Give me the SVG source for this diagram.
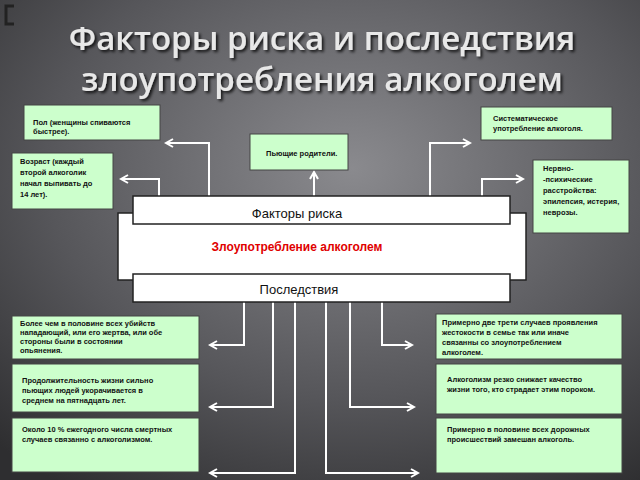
<svg xmlns="http://www.w3.org/2000/svg" width="640" height="480" viewBox="0 0 640 480">
<defs>
<radialGradient id="bg" cx="0.55" cy="0.35" r="0.8">
<stop offset="0" stop-color="#8a8a8e"/><stop offset="0.6" stop-color="#56565a"/><stop offset="1" stop-color="#2e2e30"/>
</radialGradient>
<marker id="ah" markerWidth="10" markerHeight="10" refX="8" refY="5" orient="auto" markerUnits="userSpaceOnUse">
<path d="M1,1 L8,5 L1,9" fill="none" stroke="#fff" stroke-width="2"/>
</marker>
<filter id="sh"><feDropShadow dx="2" dy="2" stdDeviation="1.5" flood-color="#000" flood-opacity="0.8"/></filter>
</defs>
<style>
.g{fill:#ccffcc;stroke:#444;stroke-width:1}
.t{font-family:"Liberation Sans",Arial,sans-serif;font-size:7.5px;font-weight:bold;fill:#111}
.w{fill:#fff;stroke:#222;stroke-width:1.5}
.c{fill:none;stroke:#fff;stroke-width:2;marker-end:url(#ah)}
.h{font-family:"Open Sans","DejaVu Sans",sans-serif;font-size:33px;font-weight:600;fill:#e8e8e8;text-anchor:middle;filter:url(#sh)}
</style>
<rect width="640" height="480" fill="url(#bg)"/>
<path d="M14,6 H6 V24 H14" fill="none" stroke="#222" stroke-width="3"/>
<text class="h" x="322" y="50">Факторы риска и последствия</text>
<text class="h" x="322" y="91">злоупотребления алкоголем</text>
<g id="connectors">
<path class="c" d="M209,196 V143 H166"/>
<path class="c" d="M159,196 V179 H121"/>
<path class="c" d="M314,196 V172"/>
<path class="c" d="M430,196 V143 H470"/>
<path class="c" d="M482,196 V179 H523"/>
<path class="c" d="M244,302 V345 H210"/>
<path class="c" d="M273,302 V407 H210"/>
<path class="c" d="M295,302 V473 H210"/>
<path class="c" d="M326,302 V473 H418"/>
<path class="c" d="M350,302 V407 H414"/>
<path class="c" d="M382,302 V345 H412"/>
</g>
<g id="n1"><rect class="g" x="24" y="105" width="136" height="35"/><text class="t" x="33" y="125">Пол (женщины спиваются</text><text class="t" x="33" y="134">быстрее).</text></g>
<g id="n2"><rect class="g" x="481" y="107" width="131" height="33"/><text class="t" x="493" y="121">Систематическое</text><text class="t" x="493" y="131">употребление алкоголя.</text></g>
<g id="n3"><rect class="g" x="250" y="134" width="98" height="36"/><text class="t" x="266" y="156">Пьющие родители.</text></g>
<g id="n4"><rect class="g" x="12" y="153" width="101" height="56"/><text class="t" x="20" y="164">Возраст (каждый</text><text class="t" x="20" y="175">второй алкоголик</text><text class="t" x="20" y="186">начал выпивать до</text><text class="t" x="20" y="197">14 лет).</text></g>
<g id="n5"><rect class="g" x="533" y="160" width="96" height="73"/><text class="t" x="543" y="171">Нервно-</text><text class="t" x="543" y="182">-психические</text><text class="t" x="543" y="193">расстройства:</text><text class="t" x="543" y="204">эпилепсия, истерия,</text><text class="t" x="543" y="215">неврозы.</text></g>
<g id="main"><rect class="w" x="118" y="213" width="408" height="67"/><text x="297" y="251" font-family="Liberation Sans,Arial,sans-serif" font-size="12" font-weight="bold" fill="#e00000" text-anchor="middle">Злоупотребление алкоголем</text></g>
<g id="factors"><rect class="w" x="133" y="196" width="377" height="28"/><text x="297" y="218" font-family="Liberation Sans,Arial,sans-serif" font-size="13" fill="#111" text-anchor="middle">Факторы риска</text></g>
<g id="cons"><rect class="w" x="133" y="274" width="377" height="28"/><text x="299" y="294" font-family="Liberation Sans,Arial,sans-serif" font-size="13" fill="#111" text-anchor="middle">Последствия</text></g>
<g id="b1"><rect class="g" x="12" y="316" width="187" height="43"/><text class="t" x="20" y="326">Более чем в половине всех убийств</text><text class="t" x="20" y="335">нападающий, или его жертва, или      обе</text><text class="t" x="20" y="344">стороны были в состоянии</text><text class="t" x="20" y="353">опьянения.</text></g>
<g id="b2"><rect class="g" x="12" y="364" width="187" height="48"/><text class="t" x="22" y="383">Продолжительность жизни сильно</text><text class="t" x="22" y="393">пьющих людей укорачивается в</text><text class="t" x="22" y="403">среднем на пятнадцать лет.</text></g>
<g id="b3"><rect class="g" x="12" y="418" width="187" height="54"/><text class="t" x="22" y="432">Около 10 % ежегодного числа смертных</text><text class="t" x="22" y="442">случаев связанно с алкоголизмом.</text></g>
<g id="b4"><rect class="g" x="436" y="314" width="186" height="45"/><text class="t" x="442" y="325">Примерно две трети случаев проявления</text><text class="t" x="442" y="335">жестокости в семье так или иначе</text><text class="t" x="442" y="345">связанны со   злоупотреблением</text><text class="t" x="442" y="355">алкоголем.</text></g>
<g id="b5"><rect class="g" x="436" y="364" width="186" height="50"/><text class="t" x="447" y="382">Алкоголизм резко снижает качество</text><text class="t" x="447" y="392">жизни того, кто страдает этим пороком.</text></g>
<g id="b6"><rect class="g" x="436" y="418" width="186" height="55"/><text class="t" x="447" y="432">Примерно в половине всех дорожных</text><text class="t" x="447" y="442">происшествий замешан алкоголь.</text></g>
</svg>
